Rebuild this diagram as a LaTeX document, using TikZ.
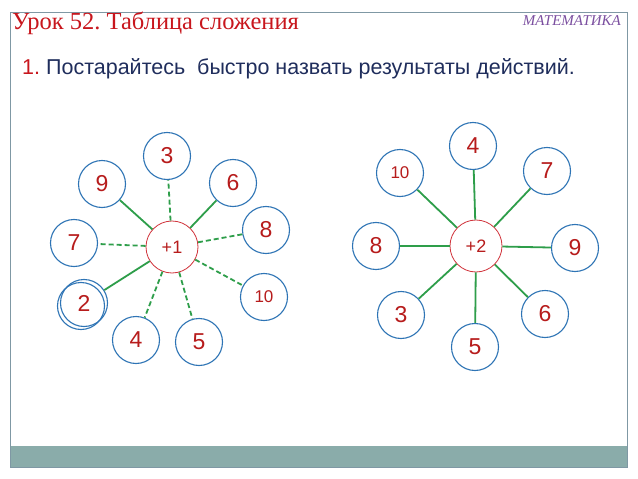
\documentclass[tikz,border=0pt]{standalone}
\usepackage{fontspec}
\setmainfont{Liberation Serif}
\newfontfamily\arialf{Liberation Sans}
\frenchspacing
\definecolor{framec}{HTML}{7F98A4}
\definecolor{bandc}{HTML}{8AACAA}
\definecolor{titlered}{HTML}{C8161D}
\definecolor{mathpurple}{HTML}{7B4FA0}
\definecolor{navy}{HTML}{1F2D5C}
\definecolor{numred}{HTML}{B71C1C}
\definecolor{ringblue}{HTML}{2E74B5}
\definecolor{lgreen}{HTML}{2E9E4A}
\definecolor{cred}{HTML}{D0323A}
\tikzset{
  sat/.style={circle, draw=ringblue, line width=1.1pt, minimum size=47pt, inner sep=0pt, text=numred, font=\arialf\fontsize{23}{23}\selectfont},
  satsmall/.style={sat, font=\arialf\fontsize{17}{17}\selectfont},
  hub/.style={circle, draw=cred, line width=0.8pt, minimum size=52pt, inner sep=0pt, text=numred, font=\arialf\fontsize{18}{18}\selectfont, fill=white},
  sline/.style={draw=lgreen, line width=1.8pt},
  dline/.style={draw=lgreen, line width=1.8pt, dash pattern=on 5pt off 3pt},
}
\begin{document}
\begin{tikzpicture}[x=1pt,y=-1pt]
\useasboundingbox (0,0) rectangle (638,479);
\fill[white] (0,0) rectangle (638,479);
% frame
\fill[bandc] (10,446) rectangle (627,467);
\draw[framec, line width=0.8pt] (10,12) rectangle (627,467);
% titles
\node[anchor=base west, inner sep=0pt, text=titlered, font=\fontsize{24.5}{24.5}\selectfont] (title) at (12,29) {Урок 52. Таблица сложения};
\node[anchor=base east, inner sep=0pt, text=mathpurple, font=\itshape\fontsize{15}{15}\selectfont] (subj) at (621,26) {МАТЕМАТИКА};
\node[anchor=base west, inner sep=0pt, font=\arialf\fontsize{21.5}{21.5}\selectfont] (task) at (22,74) {\textcolor{titlered}{1.} \textcolor{navy}{Постарайтесь\ \ быстро назвать результаты действий.}};
% left diagram
\node[hub] (h1) at (172,247) {+1};
\node[sat] (a3) at (167,156) {3};
\node[sat] (a9) at (102,184) {9};
\node[sat] (a6) at (233,183) {6};
\node[sat] (a8) at (266,230) {8};
\node[sat] (a7) at (74,243) {7};
\node[satsmall] (a10) at (264,297) {10};
\draw[ringblue, line width=1.1pt] (81,306) circle (23.5pt);
\node[sat] (a2) at (84,303) {2};
\node[sat] (a4) at (136,340) {4};
\node[sat] (a5) at (199,342) {5};
\draw[sline] (h1) -- (a9);
\draw[dline] (h1) -- (a3);
\draw[sline] (h1) -- (a6);
\draw[dline] (h1) -- (a8);
\draw[dline] (h1) -- (a7);
\draw[dline] (h1) -- (a10);
\draw[sline] (h1) -- (a2);
\draw[dline] (h1) -- (a4);
\draw[dline] (h1) -- (a5);
% right diagram
\node[hub] (h2) at (476,246) {+2};
\node[sat] (b4) at (473,146) {4};
\node[satsmall] (b10) at (400,173) {10};
\node[sat] (b7) at (547,171) {7};
\node[sat] (b8) at (376,246) {8};
\node[sat] (b9) at (575,248) {9};
\node[sat] (b3) at (401,315) {3};
\node[sat] (b6) at (545,314) {6};
\node[sat] (b5) at (475,347) {5};
\foreach \t in {b4,b10,b7,b8,b9,b3,b6,b5} \draw[sline] (h2) -- (\t);
\end{tikzpicture}
\end{document}
